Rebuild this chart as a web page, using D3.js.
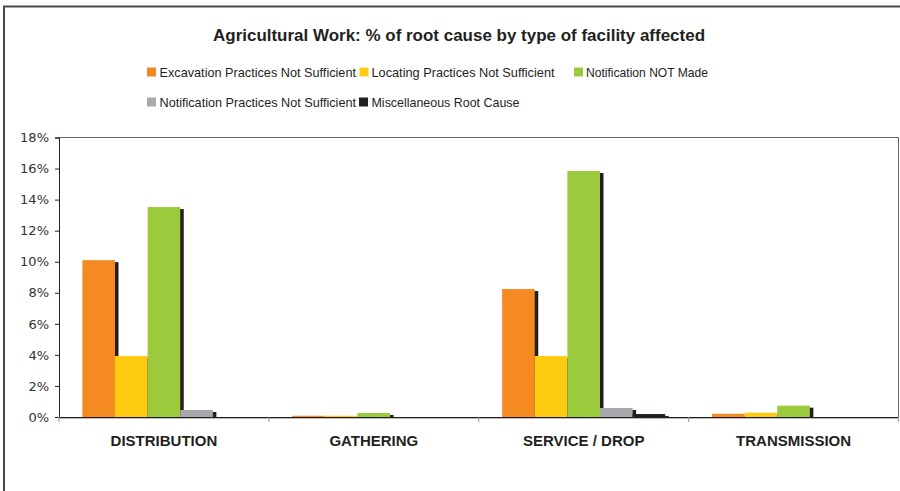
<!DOCTYPE html>
<html><head><meta charset="utf-8">
<script src="https://cdn.jsdelivr.net/npm/d3@7"></script>
<style>html,body{margin:0;padding:0;background:#fff;}svg{display:block;}</style>
</head><body>
<script>
const categories = ["DISTRIBUTION", "GATHERING", "SERVICE / DROP", "TRANSMISSION"];
const seriesNames = ["Excavation Practices Not Sufficient", "Locating Practices Not Sufficient", "Notification NOT Made", "Notification Practices Not Sufficient", "Miscellaneous Root Cause"];
const seriesColors = ["#F48A21", "#FECB10", "#9BCA3C", "#A7A9AC", "#231F20"];
const excavation = [0.101, 0.0008, 0.0824, 0.0021];
const locating = [0.0393, 0.0008, 0.0393, 0.0028];
const notificationNotMade = [0.1352, 0.0026, 0.1584, 0.0073];
const notificationPractices = [0.0045, 0, 0.0058, 0];
const miscellaneous = [0, 0, 0.0019, 0];
const yTicks = [0, 0.02, 0.04, 0.06, 0.08, 0.10, 0.12, 0.14, 0.16, 0.18];
const title = "Agricultural Work: % of root cause by type of facility affected";

(function () {
const seriesValues = [excavation, locating, notificationNotMade, notificationPractices, miscellaneous];

const W = 900, H = 491;
const svg = d3.select("body").append("svg").attr("width", W).attr("height", H);

// outer border
svg.append("rect").attr("x", 4).attr("y", 6.5).attr("width", 910).attr("height", 500)
  .attr("fill", "#fff").attr("stroke", "#4a4a4a").attr("stroke-width", 2);

const pLeft = 59, pRight = 898.5, pTop = 137.5, pBottom = 417;

const x0 = d3.scaleBand().domain(categories).range([pLeft, pRight]).padding(0);
const x1 = d3.scaleBand().domain(d3.range(seriesNames.length)).range([0, x0.bandwidth()])
  .paddingInner(0).paddingOuter(0.717);
const y = d3.scaleLinear().domain([0, 0.18]).range([pBottom, pTop]);

// plot area border (top and right)
svg.append("path").attr("d", `M${pLeft},${pTop}H${pRight}V${pBottom}`)
  .attr("fill", "none").attr("stroke", "#666").attr("stroke-width", 1);

// bars with drop shadow
const dx = 3.5, dy = 2;
categories.forEach((c, ci) => {
  seriesValues.forEach((vals, si) => {
    const v = vals[ci];
    if (v <= 0) return;
    const bx = x0(c) + x1(si), bw = x1.bandwidth();
    const by = y(v);
    const sh = pBottom - (by + dy);
    if (sh > 0) {
      svg.append("rect").attr("x", bx + dx).attr("y", by + dy).attr("width", bw).attr("height", sh)
        .attr("fill", "#231F20");
    }
    svg.append("rect").attr("x", bx).attr("y", by).attr("width", bw).attr("height", pBottom - by)
      .attr("fill", seriesColors[si]);
  });
});

// y axis
const yAxis = d3.axisLeft(y).tickValues(yTicks).tickFormat(d3.format(".0%")).tickSize(4).tickPadding(6);
const gy = svg.append("g").attr("transform", `translate(${pLeft},0)`).call(yAxis);
gy.select(".domain").attr("stroke", "#231F20");
gy.selectAll(".tick line").attr("stroke", "#231F20");
gy.selectAll(".tick text").attr("font-family", "DejaVu Sans, Verdana, sans-serif")
  .attr("font-size", 13).attr("fill", "#333");

// x axis
svg.append("line").attr("x1", pLeft).attr("x2", pRight).attr("y1", pBottom + 1.5).attr("y2", pBottom + 1.5)
  .attr("stroke", "#bbb").attr("stroke-width", 1);
const xAxis = d3.axisBottom(x0).tickSize(0).tickPadding(0);
const gx = svg.append("g").attr("transform", `translate(0,${pBottom})`).call(xAxis);
gx.select(".domain").attr("stroke", "#231F20").attr("stroke-width", 1.2);
gx.selectAll(".tick text").attr("y", 28.7).attr("dy", null)
  .attr("font-family", "Liberation Sans, Arial, sans-serif").attr("font-weight", "bold")
  .attr("font-size", 15).attr("fill", "#231F20");
// boundary ticks
const bounds = categories.map(c => x0(c)).concat([pRight]);
svg.selectAll(".btick").data(bounds).enter().append("line")
  .attr("x1", d => d).attr("x2", d => d).attr("y1", pBottom).attr("y2", pBottom + 5)
  .attr("stroke", "#999").attr("stroke-width", 1);

// title
svg.append("text").attr("x", 459).attr("y", 40.5).attr("text-anchor", "middle")
  .attr("font-family", "Liberation Sans Narrow, Liberation Sans, Arial, sans-serif")
  .attr("font-weight", "bold").attr("font-size", 17).attr("fill", "#231F20")
  .attr("textLength", 492).attr("lengthAdjust", "spacingAndGlyphs").text(title);

// legend
const legendItems = [
  { i: 0, sx: 147, ty: 76.5, tx: 159.5, tl: 196.5 },
  { i: 1, sx: 359.5, ty: 76.5, tx: 371.5, tl: 183 },
  { i: 2, sx: 574, ty: 76.5, tx: 586, tl: 122 },
  { i: 3, sx: 147, ty: 106.5, tx: 159.5, tl: 196.5 },
  { i: 4, sx: 359, ty: 106.5, tx: 371.5, tl: 148 }
];
const lg = svg.append("g");
legendItems.forEach(d => {
  lg.append("rect").attr("x", d.sx).attr("y", d.ty - 9).attr("width", 9).attr("height", 9)
    .attr("fill", seriesColors[d.i]);
  lg.append("text").attr("x", d.tx).attr("y", d.ty)
    .attr("font-family", "Liberation Sans Narrow, Liberation Sans, Arial, sans-serif")
    .attr("font-size", 13).attr("fill", "#231F20")
    .attr("textLength", d.tl).attr("lengthAdjust", "spacingAndGlyphs")
    .text(seriesNames[d.i]);
});
})();
</script>
</body></html>
